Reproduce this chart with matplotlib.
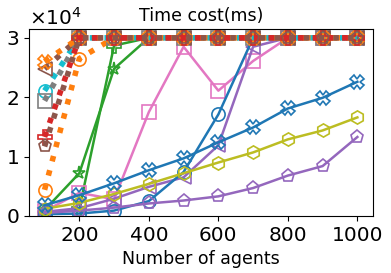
import matplotlib
matplotlib.use("Agg")
import matplotlib.pyplot as plt

agents = [100, 200, 300, 400, 500, 600, 700, 800, 900, 1000]

# solid lines (method results, ms)
blue_x = [1800, 3500, 5500, 7700, 9700, 12400, 14900, 18100, 19900, 22600]
blue_o = [300, 400, 900, 2500, 7400, 17100, 30000, 30000, 30000, 30000]
olive_h = [1200, 2200, 3700, 5400, 7200, 9000, 10700, 12900, 14400, 16600]
purple_p = [500, 900, 1400, 2100, 2600, 3300, 4700, 6800, 8400, 13300]
purple_tri = [700, 1300, 2900, 4900, 6500, 11900, 28500, 30000, 30000, 30000]
pink_s = [800, 3900, 2800, 17500, 28500, 21100, 26100, 30000, 30000, 30000]
green_star = [1000, 7200, 24800, 30000, 30000, 30000, 30000, 30000, 30000, 30000]
green_plus = [500, 1200, 28700, 30000, 30000, 30000, 30000, 30000, 30000, 30000]

# dotted lines (hit the 30000 ms timeout early)
orange_o = [4400, 26500, 30000, 30000, 30000, 30000, 30000, 30000, 30000, 30000]
orange_x = [26000, 30000, 30000, 30000, 30000, 30000, 30000, 30000, 30000, 30000]
red_plus = [13300, 30000, 30000, 30000, 30000, 30000, 30000, 30000, 30000, 30000]
brown_tri = [24800, 30000, 30000, 30000, 30000, 30000, 30000, 30000, 30000, 30000]
brown_p = [11700, 30000, 30000, 30000, 30000, 30000, 30000, 30000, 30000, 30000]
gray_s = [19400, 30000, 30000, 30000, 30000, 30000, 30000, 30000, 30000, 30000]
cyan_o = [21100, 30000, 30000, 30000, 30000, 30000, 30000, 30000, 30000, 30000]

fig = plt.figure(figsize=(3.91, 2.73), dpi=100)
ax = fig.add_axes([0.074, 0.209, 0.88, 0.685])

def solid(y, color, marker):
    ax.plot(agents, y, color=color, marker=marker, linestyle="-", linewidth=1.8,
            markersize=9.5, fillstyle="none", markeredgewidth=1.2)

def dotted(y, color, marker):
    ax.plot(agents, y, color=color, marker=marker, linestyle=":", linewidth=4,
            markersize=9.5, fillstyle="none", markeredgewidth=1.2)

solid(green_star, "tab:green", "*")
solid(green_plus, "tab:green", "P")
solid(pink_s, "tab:pink", "s")
solid(purple_tri, "tab:purple", "<")
solid(blue_o, "tab:blue", "o")
solid(purple_p, "tab:purple", "p")
solid(olive_h, "tab:olive", "h")
solid(blue_x, "tab:blue", "X")

dotted(orange_o, "tab:orange", "o")
dotted(cyan_o, "tab:cyan", "o")
dotted(gray_s, "tab:gray", "s")
dotted(brown_tri, "tab:brown", "<")
dotted(orange_x, "tab:orange", "X")
dotted(red_plus, "tab:red", "P")
dotted(brown_p, "tab:brown", "p")

ax.set_xlim(55, 1045)
ax.set_ylim(0, 31500)
ax.set_xticks([200, 400, 600, 800, 1000])
ax.set_yticks([0, 10000, 20000, 30000])
ax.ticklabel_format(style="sci", axis="y", scilimits=(0, 0), useMathText=True)
ax.tick_params(labelsize=14.5)
ax.yaxis.get_offset_text().set_fontsize(14.5)
ax.set_xlabel("Number of agents", fontsize=12.5)
ax.set_title("Time cost(ms)", fontsize=12.5)

fig.savefig("out.png", dpi=100)
